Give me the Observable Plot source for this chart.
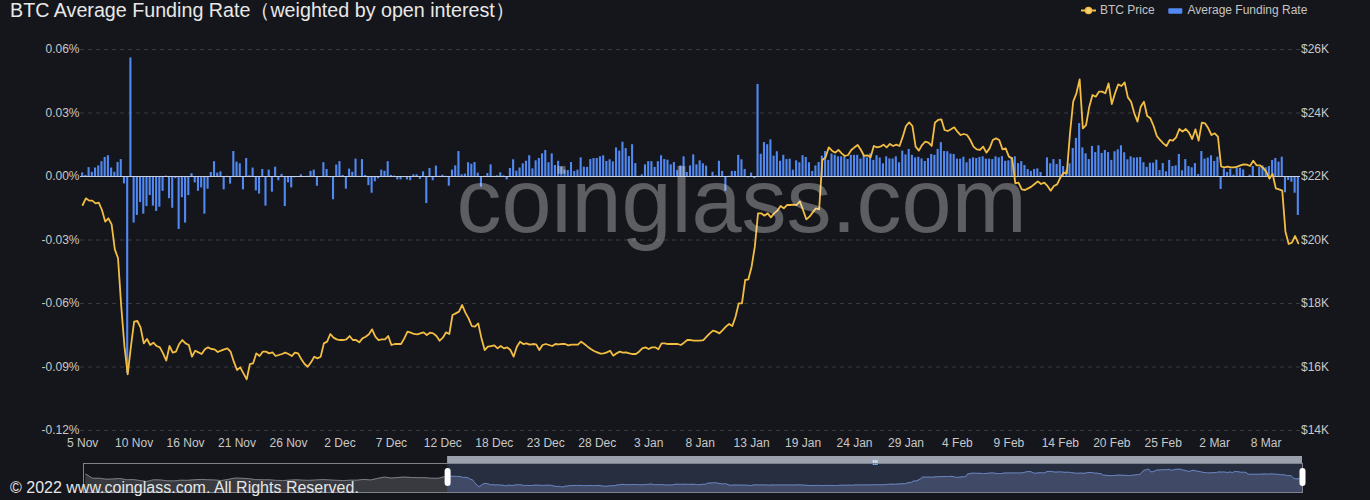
<!DOCTYPE html>
<html>
<head>
<meta charset="utf-8">
<script src="https://cdn.jsdelivr.net/npm/d3@7"></script>
<script src="https://cdn.jsdelivr.net/npm/@observablehq/plot@0.6"></script>
<style>
  html, body { margin: 0; padding: 0; background: #15161b; width: 1370px; height: 500px; overflow: hidden; }
  body { font-family: "Liberation Sans", Arial, sans-serif; }
  #wrap { position: relative; width: 1370px; height: 500px; }
  #main, #slider { position: absolute; left: 0; }
  #main { top: 0; }
  #slider { top: 452px; }
  #title { position: absolute; left: 10px; top: 0.5px; font-size: 19.7px; line-height: 19.7px; color: #e8e8e8; white-space: nowrap; }
  .lg { position: absolute; top: 4px; font-size: 12px; line-height: 12px; color: #c4c4c4; white-space: nowrap; }
  .lgicon { position: absolute; top: 0; }
  #wm { position: absolute; left: 741.5px; top: 156px; transform: translateX(-50%); font-size: 90px; line-height: 90px; color: rgba(255,255,255,0.31); white-space: nowrap; pointer-events: none; }
  #footer { position: absolute; left: 10px; top: 480px; font-size: 16px; line-height: 16px; color: #e6e6e6; white-space: nowrap; }
</style>
</head>
<body>
<div id="wrap">
  <div id="main"></div>
  <div id="wm">coinglass.com</div>
  <div id="slider"></div>
  <div id="title">BTC Average Funding Rate（weighted by open interest）</div>
  <svg class="lgicon" style="left:1080px" width="17" height="20"><line x1="1" x2="16" y1="10.5" y2="10.5" stroke="#f2bd43" stroke-width="2"/><circle cx="8.5" cy="10.5" r="3" fill="#f6d27c" stroke="#f2bd43" stroke-width="1.5"/></svg>
  <div class="lg" style="left:1100px">BTC Price</div>
  <svg class="lgicon" style="left:1168px" width="15" height="20"><rect x="0.3" y="8.3" width="14" height="5.4" rx="1" fill="#5189f2"/></svg>
  <div class="lg" style="left:1187.5px">Average Funding Rate</div>
  <div id="footer">© 2022 www.coinglass.com. All Rights Reserved.</div>
</div>
<script>
// ---- Data (8-hour intervals, 5 Nov 08:00 → 11 Mar) ----
const fundingRate = [
  0.0017, 0.0005, 0.0042, 0.002, 0.004, 0.005, 0.007, 0.009, 0.0098, 0.004,
  0.002, 0.0066, 0.008, -0.0035, -0.093, 0.056, -0.022, -0.0184, -0.0123, -0.0178,
  -0.0142, -0.009, -0.014, -0.0165, -0.0145, -0.007, 0.0002, -0.0105, -0.015, -0.001,
  -0.025, -0.01, -0.022, -0.009, 0.0013, -0.003, -0.007, -0.0054, -0.0178, -0.006,
  0.0019, 0.007, 0.0016, 0.0022, -0.0063, 0.0001, -0.0036, 0.0118, 0.0068, 0.006,
  -0.0063, 0.0085, 0.0003, 0.004, -0.0068, -0.0083, 0.0033, -0.014, 0.003, -0.0074,
  0.0044, -0.002, 0.001, -0.0142, -0.003, -0.0054, -0.0006, -0.0005, 0.0008, -0.0005,
  0.0001, 0.0024, 0.003, -0.0046, -0.0005, 0.0065, 0.0033, -0.0006, -0.011, 0.0054,
  0.007, 0.0005, -0.006, 0.0035, 0.002, 0.0082, 0.0001, 0.008, 0.0005, -0.0043,
  -0.0079, -0.0025, -0.0011, 0.003, 0.0025, 0.007, 0.0005, 0.0002, -0.0016, -0.0016,
  -0.0002, -0.0016, -0.002, 0.0008, 0.0008, -0.0014, 0.0022, -0.0128, 0.0038, -0.002,
  0.0049, 0.0001, 0.0006, 0.0001, -0.0046, 0.003, 0.005, 0.0118, 0.0008, 0.0011,
  0.0065, 0.0058, 0.0066, 0.0016, -0.005, 0.0001, 0.0014, 0.0055, 0.0001, 0.0003,
  0.0017, 0.0003, -0.0016, 0.0038, 0.0079, 0.0025, 0.004, 0.006, 0.0072, 0.0098,
  0.0036, 0.0074, 0.0085, 0.0107, 0.0123, 0.0065, 0.0107, 0.0052, 0.0072, 0.0044,
  0.003, 0.0028, 0.0066, 0.0024, 0.003, 0.0088, 0.0044, 0.0043, 0.008, 0.0085,
  0.0085, 0.0093, 0.0098, 0.0071, 0.0079, 0.0069, 0.0135, 0.012, 0.0162, 0.0132,
  0.0094, 0.015, 0.0061, 0.0001, 0.0008, 0.0055, 0.007, 0.007, 0.0043, 0.007,
  0.0098, 0.008, 0.0077, 0.0055, 0.0066, 0.0028, 0.005, 0.0093, 0.0019, 0.005,
  0.0102, 0.0055, 0.0074, 0.006, 0.0049, -0.0003, 0.002, 0.0003, 0.0072, 0.0024,
  -0.007, 0.0001, 0.0024, 0.0024, 0.01, 0.0079, 0.0033, -0.0006, 0.0016, -0.001,
  0.0435, 0.0105, 0.016, 0.015, 0.0173, 0.0096, 0.0117, 0.0072, 0.01, 0.008,
  0.0082, 0.003, 0.0074, 0.0065, 0.0098, 0.009, 0.0065, 0.0024, 0.005, 0.0066,
  0.0096, 0.0118, 0.0076, 0.0106, 0.01, 0.0093, 0.0093, 0.0093, 0.008, 0.01,
  0.01, 0.01, 0.0082, 0.01, 0.0088, 0.0107, 0.0076, 0.0098, 0.0087, 0.006,
  0.0093, 0.0083, 0.0083, 0.0093, 0.0065, 0.012, 0.0102, 0.0128, 0.01, 0.0088,
  0.0091, 0.0083, 0.0071, 0.0085, 0.0104, 0.01, 0.0128, 0.016, 0.0118, 0.0117,
  0.0106, 0.0104, 0.0082, 0.0082, 0.0091, 0.0065, 0.0082, 0.0088, 0.0085, 0.009,
  0.0093, 0.0082, 0.0082, 0.008, 0.0093, 0.0088, 0.0094, 0.0072, 0.0074, 0.009,
  0.0093, 0.0061, 0.007, 0.0052, 0.0033, 0.0024, 0.0033, 0.0036, 0.0019, -0.0003,
  0.0088, 0.006, 0.008, 0.0057, 0.008, 0.0047, 0.0028, 0.006, 0.0132, 0.018,
  0.025, 0.0135, 0.0107, 0.008, 0.0142, 0.0113, 0.0145, 0.0109, 0.0123, 0.0113,
  0.0076, 0.0117, 0.0126, 0.0145, 0.0112, 0.0079, 0.0093, 0.0087, 0.0088, 0.009,
  0.0065, 0.0043, 0.0063, 0.0063, 0.0077, 0.0028, 0.0061, 0.0022, 0.0076, 0.0047,
  0.005, 0.0104, 0.0027, 0.008, 0.0047, 0.0041, 0.0061, 0.0009, 0.0118, 0.0082,
  0.0087, 0.0098, 0.0071, 0.0091, -0.0061, 0.0036, 0.0019, 0.0035, 0.0006, 0.0041,
  0.0039, 0.0031, 0.0000, 0.0006, 0.0047, -0.0005, 0.0043, 0.005, 0.0041, 0.0047,
  0.0076, 0.0085, 0.0068, 0.0091, -0.0077, -0.0019, -0.0027, -0.0079, -0.0184
];

const btcPrice = [
  21102, 21312, 21240, 21240, 21155, 21176, 20945, 20580, 20683, 20494,
  19706, 19423, 17900, 16640, 15769, 16640, 17428, 17449, 17250, 16745,
  16882, 16693, 16766, 16661, 16619, 16430, 16199, 16661, 16451, 16483,
  16724, 16850, 16745, 16693, 16325, 16514, 16461, 16409, 16556, 16619,
  16567, 16556, 16472, 16514, 16556, 16587, 16483, 16168, 15906, 15990,
  15801, 15612, 16094, 16115, 16430, 16346, 16483, 16483, 16430, 16461,
  16346, 16378, 16409, 16451, 16409, 16346, 16451, 16430, 16241, 16094,
  16010, 16147, 16325, 16272, 16325, 16745, 16798, 17040, 16924, 16871,
  16850, 16850, 16871, 16976, 16850, 16850, 16777, 16903, 16955, 17029,
  17186, 16955, 16850, 16871, 16871, 16976, 16693, 16724, 16724, 16724,
  16903, 17113, 17081, 17040, 17029, 17060, 17092, 17008, 17081, 17060,
  16976, 16829, 16924, 17092, 17040, 17638, 17690, 17743, 17953, 17711,
  17533, 17291, 17270, 17375, 16903, 16535, 16640, 16661, 16682, 16587,
  16661, 16587, 16619, 16535, 16325, 16640, 16798, 16724, 16745, 16703,
  16724, 16714, 16535, 16693, 16724, 16693, 16661, 16724, 16714, 16724,
  16724, 16682, 16703, 16703, 16703, 16798, 16724, 16640, 16567, 16504,
  16461, 16420, 16430, 16461, 16514, 16357, 16430, 16483, 16451, 16461,
  16430, 16409, 16409, 16483, 16587, 16619, 16567, 16619, 16619, 16556,
  16745, 16745, 16724, 16724, 16724, 16724, 16693, 16766, 16850, 16850,
  16829, 16829, 16829, 16850, 16955, 17060, 17144, 17113, 17060, 17165,
  17270, 17354, 17291, 17585, 18005, 18005, 18740, 18761, 19160, 19790,
  20840, 20840, 20766, 20840, 20714, 20840, 20924, 21071, 20997, 21102,
  21102, 21113, 21102, 21218, 20945, 20651, 20735, 20871, 20997, 20966,
  22520, 22604, 22919, 22814, 22751, 22835, 22730, 22646, 22677, 22835,
  22919, 22992, 22835, 22646, 22667, 22604, 22961, 22919, 22940, 23003,
  22919, 23024, 22961, 23003, 22961, 23255, 23591, 23706, 23591, 22940,
  22814, 22992, 23097, 23066, 22961, 23696, 23780, 23801, 23465, 23433,
  23486, 23549, 23412, 23307, 23339, 23307, 23150, 22940, 22856, 22835,
  22940, 22751, 22887, 23150, 23202, 23150, 22856, 22887, 22625, 22572,
  21785, 21806, 21596, 21575, 21627, 21680, 21764, 21848, 21764, 21806,
  21701, 21554, 21701, 21753, 21963, 22121, 22100, 23360, 24357, 24620,
  25060, 23517, 23622, 24200, 24567, 24514, 24672, 24672, 24620, 24934,
  24283, 24620, 24903, 24850, 24966, 24493, 24357, 23990, 23727, 24199,
  24357, 23906, 23832, 23591, 23276, 23150, 23045, 22961, 23150, 23129,
  23234, 23496, 23412, 23496, 23380, 23181, 23486, 23129, 23696, 23675,
  23517, 23307, 23360, 23255, 22315, 22289, 22310, 22289, 22289, 22310,
  22352, 22383, 22373, 22331, 22499, 22352, 22352, 22278, 22152, 21932,
  22079, 21627, 21596, 21554, 20263, 19874, 19916, 20126, 19895
];

// x-axis labels, one every 16 periods
const xTickLabels = ["5 Nov","10 Nov","16 Nov","21 Nov","26 Nov","2 Dec","7 Dec","12 Dec","18 Dec","23 Dec","28 Dec","3 Jan",
  "8 Jan","13 Jan","19 Jan","24 Jan","29 Jan","4 Feb","9 Feb","14 Feb","20 Feb","25 Feb","2 Mar","8 Mar"];
const labelEvery = 16;

// axis ticks
const rateTicks = [-0.12, -0.09, -0.06, -0.03, 0, 0.03, 0.06];
const priceTicks = [14000, 16000, 18000, 20000, 22000, 24000, 26000];

// overview (slider) history before the visible window, daily closes 12 Sep → 4 Nov
const priceBefore = [22400, 20200, 20200, 19700, 19800, 20100, 19400, 19500, 19000, 18500,
  19400, 19300, 18900, 18800, 19200, 19100, 19400, 19600, 19400, 19300,
  19000, 19600, 20300, 20200, 20000, 19500, 19400, 19400, 19100, 19000,
  19200, 19400, 19200, 19100, 19300, 19500, 19300, 19100, 19000, 19200,
  19200, 19600, 19300, 20100, 20800, 20300, 20600, 20800, 20600, 20500,
  20500, 20200, 20200, 21100];
const periodsPerDay = 3;

// ---- Build ----
const n = fundingRate.length;
const priceToRate = d3.scaleLinear().domain(d3.extent(priceTicks)).range(d3.extent(rateTicks));

const rateData = fundingRate.map((r, i) => ({i, r}));
const priceData = btcPrice.map((p, i) => ({i, v: priceToRate(p)}));
const tickIdx = xTickLabels.map((_, k) => k * labelEvery);

const FONT = "'Liberation Sans', Arial, sans-serif";
const BLUE = "#5189f2";
const GOLD = "#f2bd43";

const main = Plot.plot({
  width: 1370,
  height: 455,
  marginTop: 49,
  marginBottom: 25,
  marginLeft: 80,
  marginRight: 70,
  style: {background: "transparent", color: "#c8c8c8", fontSize: "12px", fontFamily: FONT},
  x: {type: "band", domain: d3.range(n), padding: 0.35, axis: null},
  y: {domain: d3.extent(rateTicks), axis: null},
  marks: [
    Plot.gridY({ticks: rateTicks, stroke: "#3a3b42", strokeOpacity: 1, strokeDasharray: "4,4"}),
    Plot.barY(rateData, {x: "i", y: "r", fill: BLUE}),
    Plot.ruleY([0], {stroke: "#c9d1e3", strokeWidth: 1}),
    Plot.line(priceData, {x: "i", y: "v", stroke: GOLD, strokeWidth: 1.8, curve: "linear"}),
    Plot.axisY({ticks: rateTicks, anchor: "left", tickSize: 0, tickPadding: 1, label: null,
      tickFormat: d => d.toFixed(2) + "%", fill: "#c8c8c8"}),
    Plot.axisY({ticks: rateTicks, anchor: "right", tickSize: 0, tickPadding: 0.5, label: null,
      tickFormat: d => "$" + Math.round(priceToRate.invert(d) / 1000) + "K", fill: "#c8c8c8"}),
    Plot.axisX({ticks: tickIdx, tickSize: 0, tickPadding: 8, label: null,
      tickFormat: d => xTickLabels[d / labelEvery], fill: "#c8c8c8"})
  ]
});
document.getElementById("main").appendChild(main);

// ---- Slider / overview ----
const before = priceBefore.map((p, k) => ({x: (k - priceBefore.length) * periodsPerDay + 2, p}));
before.push({x: 0, p: btcPrice[0]});
const after = btcPrice.map((p, i) => ({x: i, p}));
const allP = priceBefore.concat(btcPrice);
const pMin = d3.min(allP), pMax = d3.max(allP), pad = (pMax - pMin) * 0.3;
const sel = [{x1: 0, x2: n - 1}];

const slider = Plot.plot({
  width: 1370,
  height: 46,
  marginTop: 11,
  marginBottom: 6,
  marginLeft: 83,
  marginRight: 68,
  style: {background: "transparent", fontFamily: FONT},
  x: {domain: [before[0].x - 1, n - 1], axis: null},
  y: {domain: [pMin - pad, pMax + pad], axis: null},
  marks: [
    Plot.areaY(before, {x: "x", y: "p", fill: "#393a40", clip: true}),
    Plot.line(before, {x: "x", y: "p", stroke: "#7b7d84", strokeWidth: 1}),
    Plot.rect(sel, {x1: "x1", x2: "x2", fill: "#272e40"}),
    Plot.areaY(after, {x: "x", y: "p", fill: "#404a67", clip: true}),
    Plot.line(after, {x: "x", y: "p", stroke: "#6b85c2", strokeWidth: 1}),
    Plot.rect(sel, {x1: "x1", x2: "x2", fill: "#9ba1ad", insetTop: -7, insetBottom: 29}),
    Plot.text(sel, {x: d => (d.x1 + d.x2) / 2, text: () => "|||", frameAnchor: "top", dy: -4,
      fontSize: 6, fill: "#ffffff", fontWeight: "bold"}),
    Plot.frame({stroke: "#7e828d"}),
    Plot.ruleX([0, n - 1], {stroke: "#ffffff", strokeWidth: 6, strokeLinecap: "round", insetTop: 8, insetBottom: 9})
  ]
});
document.getElementById("slider").appendChild(slider);
</script>
</body>
</html>
